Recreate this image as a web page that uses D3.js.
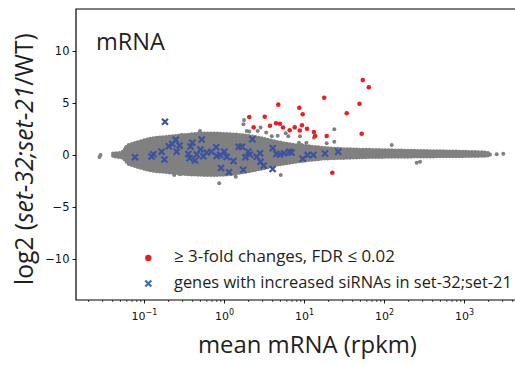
<!DOCTYPE html>
<html><head><meta charset="utf-8">
<script src="https://cdn.jsdelivr.net/npm/d3@7"></script>
<style>body{margin:0;background:#fff}svg{display:block}</style>
</head><body>
<script>
// ---------- data ----------
// significant (>=3-fold, FDR<=0.02) genes
const redMean = [2.07,2.35,3.23,3.76,4.47,4.77,5.01,5.47,6.62,7.65,8.73,8.86,9.44,9.63,10.9,13.3,13.8,17.9,19.2,22.6,34.2,49.4,52.6,54.3,64.6];
const redLog2 = [3.65,2.66,3.68,2.81,3.05,4.84,3.01,2.64,2.38,2.66,4.54,2.36,2.86,3.92,2.52,2.21,1.82,5.51,1.83,-1.70,4.01,4.92,2.05,7.20,6.51];
// genes with increased siRNAs
const blueMean = [0.0772,0.124,0.131,0.166,0.180,0.183,0.204,0.226,0.249,0.256,0.278,0.358,0.371,0.381,0.402,0.434,0.456,0.526,0.508,0.551,0.608,0.694,0.799,0.811,0.891,0.917,1.01,1.08,1.155,1.31,1.53,1.68,1.74,1.85,2.01,2.11,2.26,2.56,2.82,2.86,3.13,4.06,4.06,4.51,5.01,5.62,6.55,6.98,9.63,11.1,13.1,18.3,26.8];
const blueLog2 = [-0.22,-0.14,0.07,0.32,-0.43,3.19,0.85,1.06,1.47,0.32,0.91,0.10,-0.32,0.82,1.17,-0.53,0.04,1.48,0.53,-0.13,0.24,0.32,0.75,-0.10,0.00,-1.25,0.32,-0.19,-1.66,-0.58,0.80,0.80,-1.41,-0.22,0.32,0.05,1.51,-0.16,0.16,-0.64,-1.03,0.64,-1.35,0.10,0.05,0.16,0.32,0.24,-0.37,0.00,0.00,0.14,0.32];
// dense cloud of all genes: envelope (mean, upper, lower)
const cloudMean  = [0.041,0.0545,0.060,0.064,0.0772,0.103,0.137,0.183,0.244,0.325,0.434,0.579,0.772,1.03,1.37,1.83,2.44,3.25,4.34,5.79,7.72,10.3,13.7,18.3,28.2,43.4,77.2,158,326,668,1189,1830,2113];
const cloudUpper = [0.14,0.30,0.75,0.95,1.15,1.44,1.63,1.73,1.83,1.92,2.02,2.07,2.07,2.02,1.97,1.88,1.73,1.54,1.30,1.11,0.96,0.87,0.77,0.67,0.58,0.53,0.48,0.43,0.38,0.34,0.29,0.24,0.14];
const cloudLower = [-0.14,-0.28,-0.62,-0.85,-1.06,-1.35,-1.54,-1.63,-1.73,-1.83,-1.88,-1.92,-1.92,-1.88,-1.78,-1.63,-1.44,-1.25,-0.96,-0.82,-0.67,-0.53,-0.43,-0.34,-0.29,-0.24,-0.19,-0.17,-0.14,-0.12,-0.10,-0.07,-0.05];
// scattered genes outside the dense cloud
const grayMean = [0.0278,0.0286,0.0434,0.0501,0.059,0.0891,0.163,0.239,0.282,0.296,0.501,0.871,1.40,1.78,1.75,1.92,2.07,2.64,2.86,3.37,3.95,4.69,5.91,6.37,8.91,8.66,9.36,10.7,13.3,19.2,23.9,23.9,5.12,125,256,282,2564,3101];
const grayLog2 = [-0.19,0.00,0.10,0.07,0.64,-1.18,1.66,-1.92,-1.86,1.92,2.31,-2.72,-2.09,3.37,2.96,2.31,2.26,2.31,2.64,2.16,1.81,1.85,2.09,1.81,1.81,1.18,0.96,1.18,1.66,1.13,2.47,1.28,-1.92,0.96,-0.74,-0.64,0.07,0.12];
// axis ticks
const yTicks = [-10,-5,0,5,10];
const xTickExp = [-1,0,1,2,3];
const legendLabels = ["\u2265 3-fold changes, FDR \u2264 0.02", "genes with increased siRNAs in set-32;set-21"];

// ---------- layout ----------
const W = 515, H = 365;
const m = {left:76, top:9, bottom:300, right:522};
const svg = d3.select("body").append("svg").attr("width",W).attr("height",H);
const x = d3.scaleLog().domain([Math.pow(10,-1.85), Math.pow(10,3.725)]).range([m.left, m.right]);
const y = d3.scaleLinear().domain([-14,14]).range([300.6, 9.4]);

const GRAY = "#808080", RED = "#ee1d23", BLUE = "#3a52a2", LBLUE = "#3b6ec2";
const SANS = "'Open Sans', 'Noto Sans', sans-serif";
const TICKF = "'DejaVu Sans', sans-serif";

function fitText(sel, width){
  sel.attr("font-size",100);
  const w = sel.node().getComputedTextLength();
  sel.attr("font-size", 100*width/w);
  return 100*width/w;
}

// cloud
const area = d3.area().curve(d3.curveCatmullRom)
  .x((d,i)=>x(cloudMean[i])).y0((d,i)=>y(cloudLower[i])).y1((d,i)=>y(cloudUpper[i]));
svg.append("path").attr("d", area(cloudMean))
  .attr("fill",GRAY).attr("stroke",GRAY).attr("stroke-width",4)
  .attr("stroke-dasharray","0,3.2").attr("stroke-linecap","round");
svg.append("g").selectAll("circle").data(grayMean).join("circle")
  .attr("cx",(d)=>x(d)).attr("cy",(d,i)=>y(grayLog2[i])).attr("r",2).attr("fill",GRAY);

// blue crosses
svg.append("g").selectAll("path").data(blueMean).join("path")
  .attr("transform",(d,i)=>`translate(${x(d)},${y(blueLog2[i])})`)
  .attr("d","M-3,-3L3,3M3,-3L-3,3")
  .attr("stroke",BLUE).attr("stroke-width",2.1).attr("fill","none");

// red dots
svg.append("g").selectAll("circle").data(redMean).join("circle")
  .attr("cx",(d)=>x(d)).attr("cy",(d,i)=>y(redLog2[i])).attr("r",2.3).attr("fill",RED);

// spines
svg.append("path").attr("d",`M${m.right},${m.top}H${m.left}V${m.bottom}H${m.right}`)
  .attr("fill","none").attr("stroke","#000").attr("stroke-width",1.2);

// y axis
const yAxis = svg.append("g").attr("transform",`translate(${m.left},0)`)
  .call(d3.axisLeft(y).tickValues(yTicks).tickSize(3.5).tickPadding(3).tickFormat(d=>d<0?"\u2212"+Math.abs(d):d));
yAxis.select(".domain").remove();
yAxis.selectAll("text").attr("font-family",TICKF).attr("font-size",11.5).attr("fill","#111");
yAxis.selectAll("line").attr("stroke","#000").attr("stroke-width",0.9);

// x axis
const minor = [];
for (let e=-2; e<=3; e++) for (let k=2;k<=9;k++){ const v=k*Math.pow(10,e); if (v>=x.domain()[0] && v<=x.domain()[1]) minor.push(v); }
const xMinor = svg.append("g").attr("transform",`translate(0,${m.bottom})`)
  .call(d3.axisBottom(x).tickValues(minor).tickSize(2).tickFormat(""));
xMinor.select(".domain").remove();
xMinor.selectAll("line").attr("stroke","#000").attr("stroke-width",0.7);
const xAxis = svg.append("g").attr("transform",`translate(0,${m.bottom})`)
  .call(d3.axisBottom(x).tickValues(xTickExp.map(e=>Math.pow(10,e))).tickSize(3.5).tickFormat(""));
xAxis.select(".domain").remove();
xAxis.selectAll("line").attr("stroke","#000").attr("stroke-width",0.9);
xAxis.selectAll("g.tick").each(function(d,i){
  const t = d3.select(this).append("text").attr("y",20).attr("text-anchor","middle")
    .attr("font-family",TICKF).attr("font-size",11).attr("fill","#111");
  t.append("tspan").text("10");
  const e = xTickExp[i];
  t.append("tspan").attr("dy",-5).attr("font-size",8).text(e<0?"\u2212"+Math.abs(e):e);
});

// panel label
const lab = svg.append("text").attr("x",96).attr("y",50).attr("font-family",SANS).attr("fill","#231f20").text("mRNA");
fitText(lab, 69);

// x title
const xt = svg.append("text").attr("x",198).attr("y",353).attr("font-family",SANS).attr("fill","#231f20").text("mean mRNA (rpkm)");
fitText(xt, 219);

// y title
const yt = svg.append("text").attr("transform","translate(33,285) rotate(-90)").attr("font-family",SANS).attr("fill","#231f20");
yt.append("tspan").text("log2 (");
yt.append("tspan").attr("font-style","italic").text("set-32;set-21");
yt.append("tspan").text("/WT)");
fitText(yt, 252);

// legend
svg.append("circle").attr("cx",148.3).attr("cy",258).attr("r",3.2).attr("fill",RED);
svg.append("path").attr("transform","translate(148.3,283.5)").attr("d","M-3,-3L3,3M3,-3L-3,3")
  .attr("stroke",LBLUE).attr("stroke-width",2.2);
const l1 = svg.append("text").attr("x",174).attr("y",262).attr("font-family",SANS).attr("fill","#231f20").text(legendLabels[0]);
fitText(l1, 221);
const l2 = svg.append("text").attr("x",174).attr("y",288).attr("font-family",SANS).attr("fill","#231f20").text(legendLabels[1]);
fitText(l2, 338);
</script>
</body></html>
